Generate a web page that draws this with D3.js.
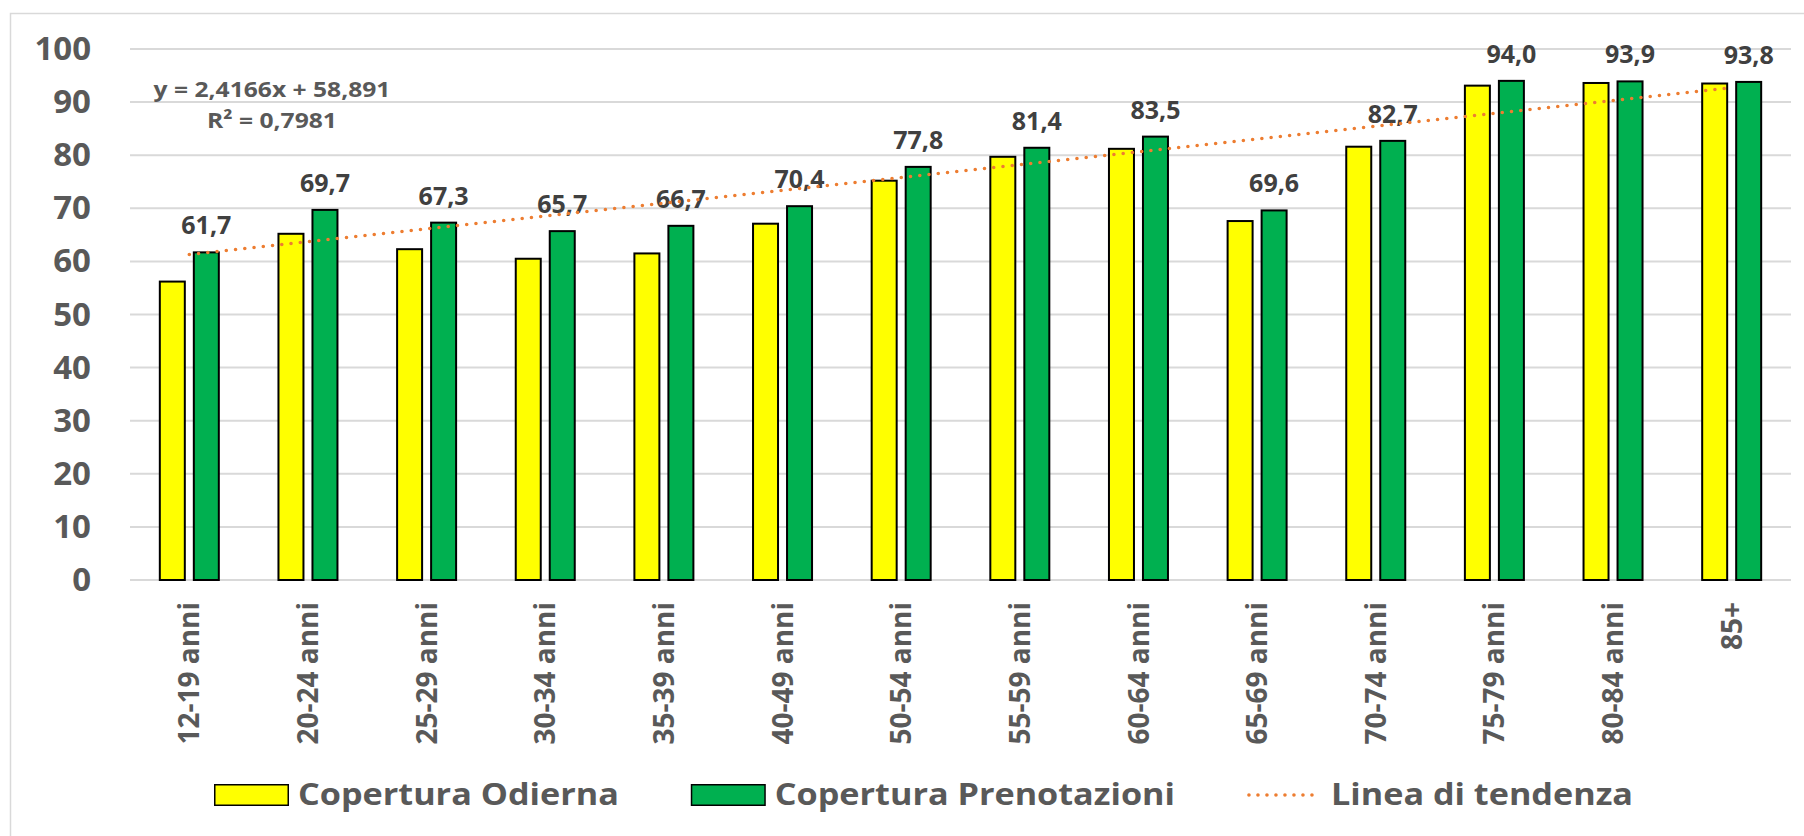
<!DOCTYPE html>
<html>
<head>
<meta charset="utf-8">
<script src="https://cdn.jsdelivr.net/npm/d3@7"></script>
<style>
  html, body { margin: 0; padding: 0; background: #ffffff; }
  svg { display: block; font-family: "Open Sans", "DejaVu Sans", sans-serif; font-weight: 700; }
</style>
</head>
<body>
<svg id="chart" width="1804" height="836"></svg>
<script>
// Age groups
const categories = ["12-19 anni", "20-24 anni", "25-29 anni", "30-34 anni", "35-39 anni",
  "40-49 anni", "50-54 anni", "55-59 anni", "60-64 anni", "65-69 anni", "70-74 anni",
  "75-79 anni", "80-84 anni", "85+"];

// Current coverage (%)
const coperturaOdierna = [56.2, 65.2, 62.3, 60.5, 61.5, 67.1, 75.2, 79.7, 81.2, 67.6, 81.6, 93.1, 93.6, 93.5];

// Coverage including bookings (%)
const coperturaPrenotazioni = [61.7, 69.7, 67.3, 65.7, 66.7, 70.4, 77.8, 81.4, 83.5, 69.6, 82.7, 94.0, 93.9, 93.8];

// Linear trend of the bookings series: y = slope * x + intercept, x = 1..14
const trendSlope = 2.4166;
const trendIntercept = 58.891;
const trendR2 = 0.7981;

const yTicks = [0, 10, 20, 30, 40, 50, 60, 70, 80, 90, 100];
const seriesNames = ["Copertura Odierna", "Copertura Prenotazioni"];
const legendLabels = ["Copertura Odierna", "Copertura Prenotazioni", "Linea di tendenza"];

const colors = { odierna: "#FFFF00", prenotazioni: "#00B050", trend: "#ED7D31",
  text: "#595959", label: "#404040", grid: "#D9D9D9" };

const fmt = v => d3.format(".1f")(v).replace(".", ",");
const fmt4 = v => String(v).replace(".", ",");

const svg = d3.select("#chart");

// Outer chart frame
svg.append("rect")
  .attr("x", 10.5).attr("y", 13.5)
  .attr("width", 1800).attr("height", 830)
  .attr("fill", "#fff").attr("stroke", colors.grid).attr("stroke-width", 1.5);

const plot = { left: 130, right: 1791, top: 49, bottom: 580 };

const x = d3.scaleBand().domain(categories).range([plot.left, plot.right]).padding(0);
const y = d3.scaleLinear().domain([0, 100]).range([plot.bottom, plot.top]);

// Two bars per group, 27px wide with a small gap
const inner = d3.scaleBand().domain(seriesNames).range([-30.5, 30.5]).paddingInner(0.206).paddingOuter(0);

// Gridlines
svg.append("g").selectAll("line")
  .data(yTicks)
  .join("line")
  .attr("x1", plot.left).attr("x2", plot.right)
  .attr("y1", d => y(d)).attr("y2", d => y(d))
  .attr("stroke", colors.grid).attr("stroke-width", 2);

// Y axis labels
const yAxis = d3.axisLeft(y).tickValues(yTicks).tickSize(0).tickPadding(0).tickFormat(d3.format("d"));
const yg = svg.append("g").attr("transform", "translate(91,0)").call(yAxis);
yg.select(".domain").remove();
yg.selectAll("text")
  .attr("fill", colors.text)
  .style("font-size", "33px")
  .style("font-weight", 700)
  .style("font-family", '"Open Sans", sans-serif');

// Bars
const groups = svg.append("g").selectAll("g")
  .data(categories.map((c, i) => ({ c, vals: [coperturaOdierna[i], coperturaPrenotazioni[i]] })))
  .join("g")
  .attr("transform", d => `translate(${x(d.c) + x.bandwidth() / 2},0)`);

groups.selectAll("rect")
  .data(d => d.vals.map((v, k) => ({ s: seriesNames[k], v })))
  .join("rect")
  .attr("x", d => inner(d.s) + 1)
  .attr("width", inner.bandwidth() - 2)
  .attr("y", d => y(d.v))
  .attr("height", d => y(0) - y(d.v))
  .attr("fill", d => d.s === seriesNames[0] ? colors.odierna : colors.prenotazioni)
  .attr("stroke", "#000").attr("stroke-width", 2);

// Value labels above the bookings bars
groups.append("text")
  .attr("x", inner(seriesNames[1]) + inner.bandwidth() / 2)
  .attr("y", (d) => y(d.vals[1]) - 18)
  .attr("text-anchor", "middle")
  .attr("fill", colors.label)
  .style("font-size", "25px")
  .text(d => fmt(d.vals[1]));

// Trend line from the first to the last group centre
const trendPts = [1, categories.length].map(i => ({
  px: x(categories[i - 1]) + x.bandwidth() / 2,
  v: trendSlope * i + trendIntercept
}));
svg.append("path")
  .attr("d", d3.line().x(d => d.px).y(d => y(d.v))(trendPts))
  .attr("fill", "none")
  .attr("stroke", colors.trend)
  .attr("stroke-width", 3.6)
  .attr("stroke-linecap", "round")
  .attr("stroke-dasharray", "0 9.3");

// Trend equation
const eq = svg.append("text")
  .attr("text-anchor", "middle")
  .attr("fill", colors.text)
  .attr("transform", "translate(272,0) scale(1.12,1)")
  .style("font-size", "22px");
eq.append("tspan").attr("x", 0).attr("y", 96.7)
  .text(`y = ${fmt4(trendSlope)}x + ${fmt4(trendIntercept)}`);
eq.append("tspan").attr("x", 0).attr("y", 128.3)
  .text(`R² = ${fmt4(trendR2)}`);

// X axis category labels (rotated)
const xAxis = d3.axisBottom(x).tickSize(0).tickPadding(0);
const xg = svg.append("g").attr("transform", `translate(0,${plot.bottom})`).call(xAxis);
xg.select(".domain").remove();
xg.selectAll("text")
  .attr("transform", "rotate(-90)")
  .attr("x", -22)
  .attr("y", 0)
  .attr("dy", "0.36em")
  .attr("dx", 0)
  .attr("text-anchor", "end")
  .attr("fill", colors.text)
  .style("font-size", "28px")
  .style("font-weight", 700)
  .style("font-family", '"Open Sans", sans-serif');

// Legend
const legend = svg.append("g").attr("transform", "translate(214,784)");
let lx = 0;
const stretch = 1.14;
legendLabels.forEach((lab, i) => {
  const item = legend.append("g").attr("transform", `translate(${lx},0)`);
  if (i < 2) {
    item.append("rect")
      .attr("x", 0.75).attr("y", 0.75)
      .attr("width", 73.5).attr("height", 20.5)
      .attr("fill", i === 0 ? colors.odierna : colors.prenotazioni)
      .attr("stroke", "#000").attr("stroke-width", 1.5);
  } else {
    item.append("line")
      .attr("x1", 2).attr("x2", 74).attr("y1", 11).attr("y2", 11)
      .attr("stroke", colors.trend).attr("stroke-width", 3.6)
      .attr("stroke-linecap", "round").attr("stroke-dasharray", "0 9");
  }
  const t = item.append("text")
    .attr("transform", `translate(84,21) scale(${stretch},1)`)
    .attr("fill", colors.text)
    .style("font-size", "30px")
    .text(lab);
  const w = t.node().getComputedTextLength() * stretch;
  lx += 84 + w + 72;
});
</script>
</body>
</html>
